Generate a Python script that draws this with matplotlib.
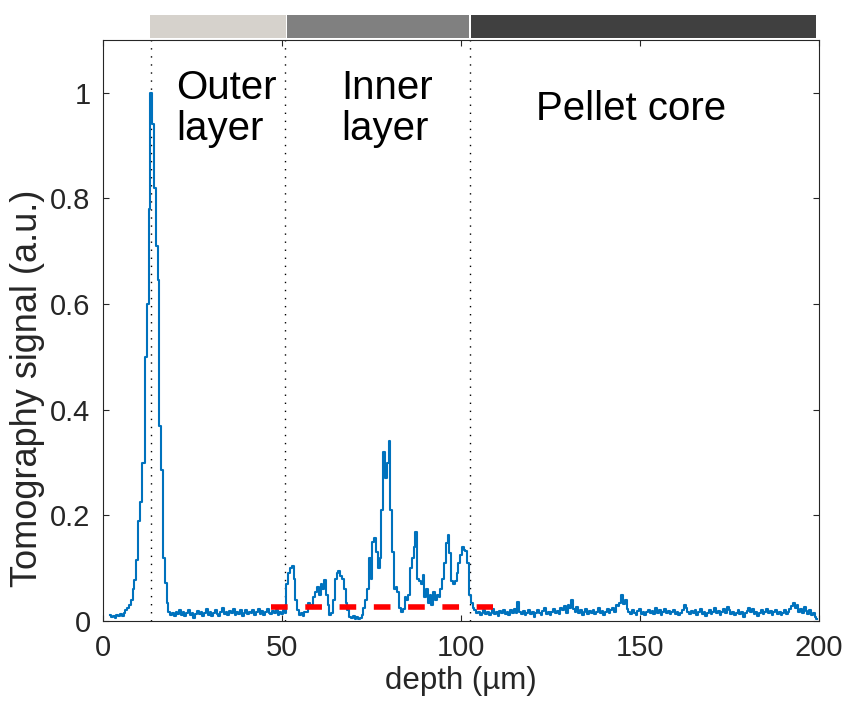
import numpy as np
import matplotlib
matplotlib.use("Agg")
import matplotlib.pyplot as plt
import matplotlib.transforms as mtransforms
from matplotlib.patches import Rectangle

plt.rcParams["font.family"] = ["Liberation Sans", "DejaVu Sans"]

# tomography signal, one value every 0.5 um starting at 2 um
depth_start = 2.0
depth_step = 0.5
signal = [
    0.012, 0.008, 0.010, 0.006, 0.011, 0.009, 0.013, 0.010, 0.015, 0.020,  # 2
    0.024, 0.030, 0.040, 0.060, 0.077, 0.115, 0.190, 0.225, 0.300, 0.300,  # 7
    0.500, 0.600, 0.780, 1.000, 0.940, 0.820, 0.710, 0.645, 0.370, 0.285,  # 12
    0.120, 0.072, 0.035, 0.018, 0.012, 0.016, 0.010, 0.018, 0.014, 0.020,  # 17
    0.012, 0.017, 0.009, 0.015, 0.020, 0.011, 0.016, 0.006, 0.014, 0.019,  # 22
    0.013, 0.018, 0.010, 0.015, 0.022, 0.012, 0.017, 0.009, 0.016, 0.021,  # 27
    0.014, 0.010, 0.018, 0.024, 0.013, 0.017, 0.011, 0.019, 0.015, 0.022,  # 32
    0.012, 0.018, 0.014, 0.020, 0.009, 0.016, 0.021, 0.013, 0.018, 0.015,  # 37
    0.020, 0.012, 0.017, 0.023, 0.014, 0.019, 0.011, 0.017, 0.022, 0.016,  # 42
    0.013, 0.019, 0.015, 0.021, 0.012, 0.018, 0.014, 0.020, 0.016, 0.070,  # 47
    0.090, 0.100, 0.105, 0.080, 0.040, 0.020, 0.012, 0.015, 0.010, 0.018,  # 52
    0.018, 0.035, 0.030, 0.025, 0.045, 0.055, 0.065, 0.050, 0.070, 0.060,  # 57
    0.077, 0.050, 0.030, 0.012, 0.015, 0.040, 0.080, 0.090, 0.095, 0.085,  # 62
    0.080, 0.060, 0.035, 0.020, 0.008, 0.005, 0.010, 0.004, 0.007, 0.003,  # 67
    0.006, 0.012, 0.025, 0.040, 0.060, 0.120, 0.080, 0.150, 0.157, 0.130,  # 72
    0.100, 0.120, 0.210, 0.320, 0.270, 0.300, 0.340, 0.210, 0.130, 0.060,  # 77
    0.065, 0.055, 0.025, 0.018, 0.022, 0.045, 0.040, 0.050, 0.100, 0.120,  # 82
    0.140, 0.168, 0.080, 0.075, 0.070, 0.087, 0.045, 0.060, 0.035, 0.050,  # 87
    0.030, 0.055, 0.040, 0.050, 0.045, 0.060, 0.080, 0.110, 0.147, 0.162,  # 92
    0.128, 0.075, 0.070, 0.075, 0.090, 0.110, 0.125, 0.140, 0.135, 0.133,  # 97
    0.110, 0.050, 0.035, 0.025, 0.020, 0.015, 0.018, 0.012, 0.016, 0.020,  # 102
    0.014, 0.018, 0.012, 0.016, 0.022, 0.013, 0.017, 0.010, 0.019, 0.015,  # 107
    0.021, 0.014, 0.018, 0.012, 0.020, 0.016, 0.022, 0.015, 0.036, 0.018,  # 112
    0.014, 0.019, 0.011, 0.016, 0.021, 0.013, 0.018, 0.008, 0.015, 0.020,  # 117
    0.016, 0.012, 0.019, 0.024, 0.014, 0.018, 0.011, 0.017, 0.022, 0.015,  # 122
    0.019, 0.013, 0.025, 0.020, 0.028, 0.016, 0.030, 0.024, 0.040, 0.022,  # 127
    0.018, 0.026, 0.015, 0.020, 0.012, 0.018, 0.023, 0.014, 0.019, 0.016,  # 132
    0.021, 0.013, 0.018, 0.024, 0.015, 0.019, 0.012, 0.017, 0.022, 0.016,  # 137
    0.020, 0.025, 0.018, 0.030, 0.028, 0.035, 0.050, 0.032, 0.040, 0.022,  # 142
    0.018, 0.013, 0.020, 0.016, 0.011, 0.019, 0.023, 0.014, 0.018, 0.012,  # 147
    0.017, 0.021, 0.015, 0.019, 0.013, 0.024, 0.016, 0.020, 0.012, 0.018,  # 152
    0.022, 0.015, 0.019, 0.013, 0.017, 0.021, 0.014, 0.018, 0.011, 0.016,  # 157
    0.020, 0.030, 0.024, 0.017, 0.013, 0.019, 0.015, 0.021, 0.012, 0.017,  # 162
    0.023, 0.014, 0.018, 0.010, 0.016, 0.020, 0.013, 0.017, 0.024, 0.015,  # 167
    0.019, 0.012, 0.018, 0.022, 0.016, 0.026, 0.020, 0.014, 0.018, 0.011,  # 172
    0.016, 0.021, 0.013, 0.017, 0.008, 0.015, 0.019, 0.025, 0.018, 0.022,  # 177
    0.014, 0.018, 0.010, 0.016, 0.020, 0.013, 0.017, 0.022, 0.015, 0.019,  # 182
    0.012, 0.017, 0.021, 0.014, 0.018, 0.011, 0.016, 0.020, 0.013, 0.018,  # 187
    0.022, 0.028, 0.035, 0.024, 0.030, 0.018, 0.022, 0.015, 0.026, 0.019,  # 192
    0.014, 0.020, 0.012, 0.016, 0.008, 0.004,                              # 197
]
depth = depth_start + depth_step * np.arange(len(signal))

# layer boundaries (um) and the colour bar on top
boundaries = [13.4, 50.8, 102.5]
zones = [(13.2, 51.0), (51.4, 102.3), (102.9, 199.3)]
zone_colors = ["#d6d2cc", "#808080", "#404040"]

# threshold line
thr_level = 0.027
thr_range = (46.8, 108.8)

labels = ["Outer\nlayer", "Inner\nlayer", "Pellet core"]
label_x = [20.5, 66.5, 121.0]
label_y = 0.97

fig = plt.figure(figsize=(8.48, 7.05), dpi=100)
ax = fig.add_axes([0.1215, 0.1191, 0.8443, 0.8242])

for b in boundaries:
    ax.axvline(b, color="black", lw=1.0, linestyle=(0, (1, 4.8)), zorder=1)

ax.step(depth, signal, where="mid", color="#0072BD", lw=1.5, zorder=2)

ax.plot(thr_range, [thr_level, thr_level], color="red", lw=4,
        linestyle=(0, (3.0, 3.17)), solid_capstyle="butt", zorder=3)

for t, x in zip(labels, label_x):
    ax.text(x, label_y, t, fontsize=29, ha="left", va="center",
            color="black", linespacing=1.1)

# colour bar above the axes
trans = mtransforms.blended_transform_factory(ax.transData, ax.transAxes)
for (x0, x1), c in zip(zones, zone_colors):
    ax.add_patch(Rectangle((x0, 1.004), x1 - x0, 0.039, transform=trans,
                           facecolor=c, edgecolor="none", clip_on=False))

ax.set_xlim(0, 200)
ax.set_ylim(0, 1.1)
ax.set_xticks([0, 50, 100, 150, 200])
ax.set_yticks([0, 0.2, 0.4, 0.6, 0.8, 1])
ax.set_yticklabels(["0", "0.2", "0.4", "0.6", "0.8", "1"])
ax.tick_params(direction="in", top=True, right=True, length=4, width=0.8,
               labelsize=21, colors="#262626", pad=9)
for s in ax.spines.values():
    s.set_color("#262626")
    s.set_linewidth(0.8)

ax.set_xlabel("depth (µm)", fontsize=22.5, color="#262626")
ax.set_ylabel("Tomography signal (a.u.)", fontsize=26, color="#262626")
ax.xaxis.set_label_coords(0.5, -0.078)
ax.yaxis.set_label_coords(-0.081, 0.40)

fig.savefig("out.png", dpi=100)
